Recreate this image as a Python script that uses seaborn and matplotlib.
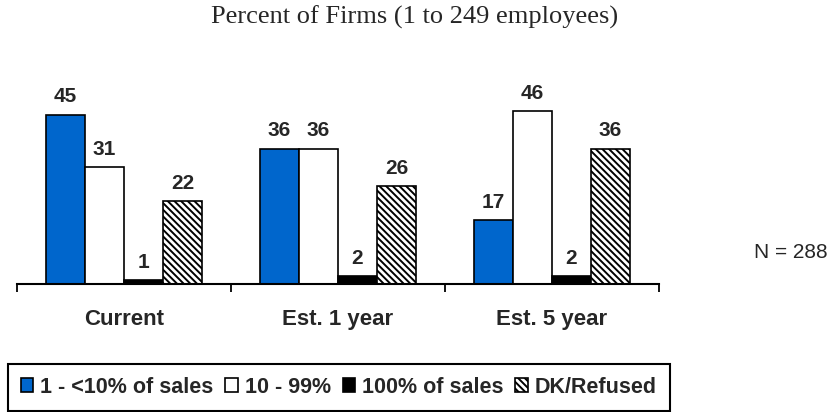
import pandas as pd
import seaborn as sns
import matplotlib.pyplot as plt

# ===== data ==========================================================
categories = ['Current', 'Est. 1 year', 'Est. 5 year']
series_names = ['1 - <10% of sales', '10 - 99%', '100% of sales', 'DK/Refused']
low_share = [45, 36, 17]
mid_share = [31, 36, 46]
full_share = [1, 2, 2]
dk_refused = [22, 26, 36]
title = 'Percent of Firms (1 to 249 employees)'
sample_note = 'N = 288'

bar_colors = ['#0066CC', '#FFFFFF', '#000000', '#FFFFFF']

df = pd.DataFrame({
    'category': categories * 4,
    'series': [s for s in series_names for _ in categories],
    'value': low_share + mid_share + full_share + dk_refused,
})

# ===== style =========================================================
sns.set_theme(style='white')
plt.rcParams['font.family'] = ['Liberation Sans', 'DejaVu Sans']
plt.rcParams['hatch.linewidth'] = 1.4
plt.rcParams['hatch.color'] = 'black'

W, H = 830, 412
fig = plt.figure(figsize=(W / 100, H / 100), dpi=100)
ax = fig.add_axes([17 / W, (H - 284) / H, 642 / W, 188 / H])

sns.barplot(data=df, x='category', y='value', hue='series',
            order=categories, hue_order=series_names, palette=bar_colors,
            width=0.73, saturation=1, edgecolor='black', linewidth=1.2,
            legend=False, ax=ax)

for bar in ax.containers[3]:
    bar.set_hatch('\\\\\\\\\\')

for cont in ax.containers:
    ax.bar_label(cont, labels=[f'{v:g}' for v in cont.datavalues],
                 padding=6, fontsize=15, fontweight='bold')

ax.set_xlim(-0.5, 2.5)
ax.set_ylim(0, 50)
ax.set_xlabel('')
ax.set_ylabel('')
ax.set_yticks([])
ax.set_xticks([-0.5, 0.5, 1.5, 2.5], labels=[''] * 4)
ax.set_xticks([0, 1, 2], labels=categories, minor=True)
for lbl in ax.get_xticklabels(minor=True):
    lbl.set_fontsize(16)
    lbl.set_fontweight('bold')
ax.tick_params(axis='x', which='major', length=6, width=1.3, color='black',
               direction='out', bottom=True)
ax.tick_params(axis='x', which='minor', length=0, pad=18)
for side in ['left', 'top', 'right']:
    ax.spines[side].set_visible(False)
ax.spines['bottom'].set_color('black')
ax.spines['bottom'].set_linewidth(1.5)

leg = fig.legend(ax.containers, series_names, loc='upper left',
                 bbox_to_anchor=(8 / W, (H - 364) / H), ncol=4,
                 frameon=True, fancybox=False, framealpha=1, edgecolor='black',
                 prop=dict(weight='bold', size=15.5), handlelength=0.58,
                 handleheight=0.62, handletextpad=0.32, columnspacing=0.55,
                 borderpad=0.6, borderaxespad=0)
leg.get_frame().set_linewidth(1.5)

fig.text(0.5, 0.957, title, ha='center', va='center', fontsize=19,
         family=['Liberation Serif', 'DejaVu Serif'])
fig.text(0.997, (H - 253) / H, sample_note, ha='right', va='center', fontsize=15)

fig.savefig('out.png', dpi=100)
